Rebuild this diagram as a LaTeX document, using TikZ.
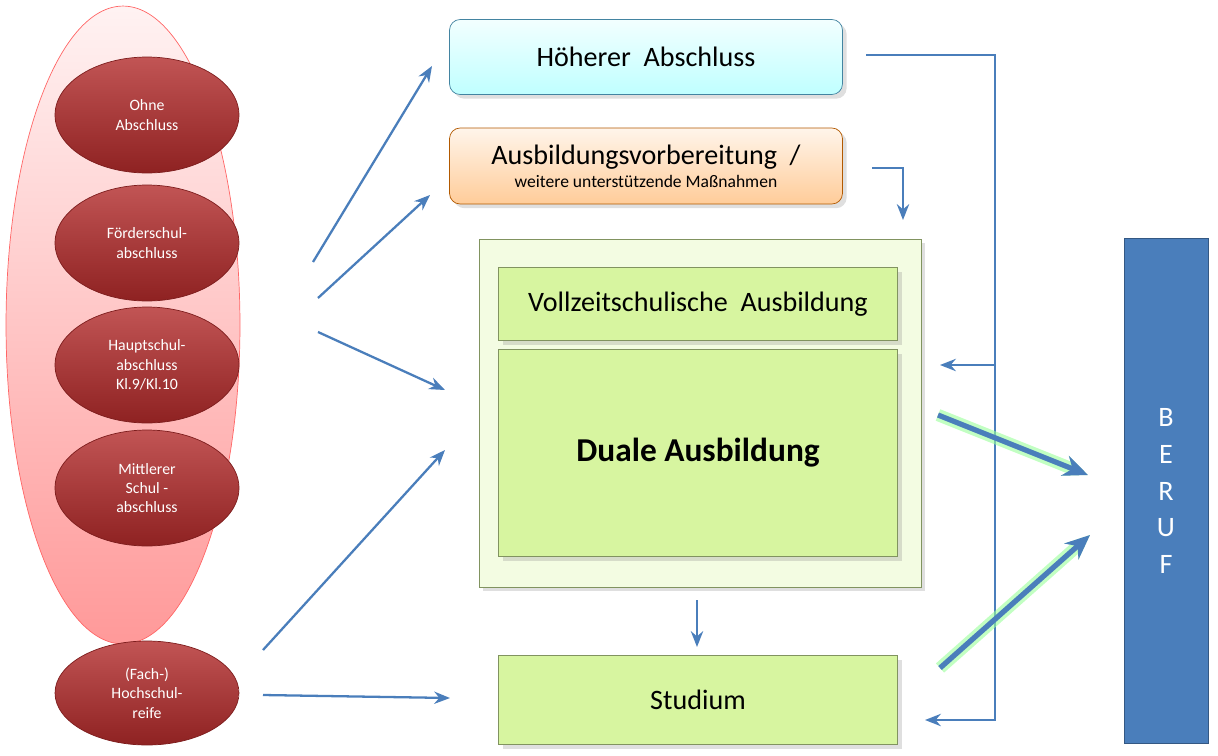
\documentclass[tikz,border=0pt]{standalone}
\usepackage{fontspec}
\setmainfont{Carlito}
\usetikzlibrary{shapes.geometric,arrows.meta,shadows}
\definecolor{arrowblue}{HTML}{4A7EBB}
\definecolor{darkred}{HTML}{B22A2A}
\definecolor{lightgreen}{HTML}{D7F5A0}
\tikzset{
  grade/.style={ellipse, draw=darkred!70!black, top color=darkred!80!white, bottom color=darkred!80!black, text=white, font=\small, align=center, minimum width=3.68cm, minimum height=2.32cm, inner sep=0pt},
  greenbox/.style={draw=lightgreen!60!black, fill=lightgreen, drop shadow={opacity=0.25}},
  flow/.style={->, arrowblue, line width=1.3pt, >={Stealth[length=9pt,width=7pt]}},
  bigflow/.style={->, arrowblue, line width=3pt, >={Stealth[length=14pt,width=12pt]}}
}
\begin{document}
\begin{tikzpicture}[x=0.02cm,y=-0.02cm]
  \useasboundingbox (0,0) rectangle (1218,755);
  % Schulabschluesse
  \node[ellipse, draw=red!60, top color=red!5, bottom color=red!40, minimum width=4.68cm, minimum height=12.76cm] (schule) at (123,325) {};
  \node[grade] (ohne) at (147,115) {Ohne\\Abschluss};
  \node[grade] (foerder) at (147,243) {Förderschul-\\abschluss};
  \node[grade] (haupt) at (147,365) {Hauptschul-\\abschluss\\Kl.9/Kl.10};
  \node[grade] (mittel) at (147,488) {Mittlerer\\Schul -\\abschluss};
  \node[grade, minimum height=2.08cm] (reife) at (147,693) {(Fach-)\\Hochschul-\\reife};
  % Wege
  \node[draw=cyan!60!black, rounded corners=6, top color=cyan!5, bottom color=cyan!25, minimum width=7.86cm, minimum height=1.5cm, font=\fontsize{16}{19}\selectfont, drop shadow={opacity=0.25}] (hoeher) at (646,57) {Höherer~ Abschluss};
  \node[draw=orange!70!black, rounded corners=6, top color=orange!8, bottom color=orange!40, minimum width=7.86cm, minimum height=1.52cm, align=center, drop shadow={opacity=0.25}] (vorb) at (646,166) {{\fontsize{16}{19}\selectfont Ausbildungsvorbereitung~ /}\\[1pt]weitere unterstützende Maßnahmen};
  \node[draw=lightgreen!60!black, fill=lightgreen!30, minimum width=8.84cm, minimum height=6.96cm, drop shadow={opacity=0.25}] (rahmen) at (700,413) {};
  \node[greenbox, minimum width=7.98cm, minimum height=1.46cm, font=\fontsize{16}{19}\selectfont] (vollzeit) at (698,304) {Vollzeitschulische~ Ausbildung};
  \node[greenbox, minimum width=7.98cm, minimum height=4.14cm, font=\fontsize{19}{23}\selectfont\bfseries] (dual) at (698,453) {Duale Ausbildung};
  \node[greenbox, minimum width=7.98cm, minimum height=1.78cm, font=\fontsize{16}{19}\selectfont] (studium) at (698,700) {Studium};
  \node[draw=arrowblue!70!black, fill=arrowblue, minimum width=1.68cm, minimum height=10.1cm, text=white, font=\fontsize{16}{19}\selectfont, align=center] (beruf) at (1166,491) {B\\[2pt]E\\[2pt]R\\[2pt]U\\[2pt]F};
  % Pfeile
  \coordinate (knoten) at (995,365);
  \draw[flow] (313,262) -- (432,66);
  \draw[flow] (318,298) -- (430,195);
  \draw[flow] (318,332) -- (445,390);
  \draw[flow] (263,650) -- (445,450);
  \draw[flow] (263,695) -- (450,698);
  \draw[flow] (866,55) -- (995,55) -- (995,720) -- (925,720);
  \draw[flow] (knoten) -- (940,365);
  \draw[flow] (872,168) -- (903,168) -- (903,220);
  \draw[flow] (697,600) -- (697,647);
  \draw[bigflow, draw=green!40!white, line width=7pt, opacity=0.6] (938,415) -- (1088,475);
  \draw[bigflow] (938,415) -- (1088,475);
  \draw[bigflow, draw=green!40!white, line width=7pt, opacity=0.6] (940,668) -- (1090,535);
  \draw[bigflow] (940,668) -- (1090,535);
\end{tikzpicture}
\end{document}
